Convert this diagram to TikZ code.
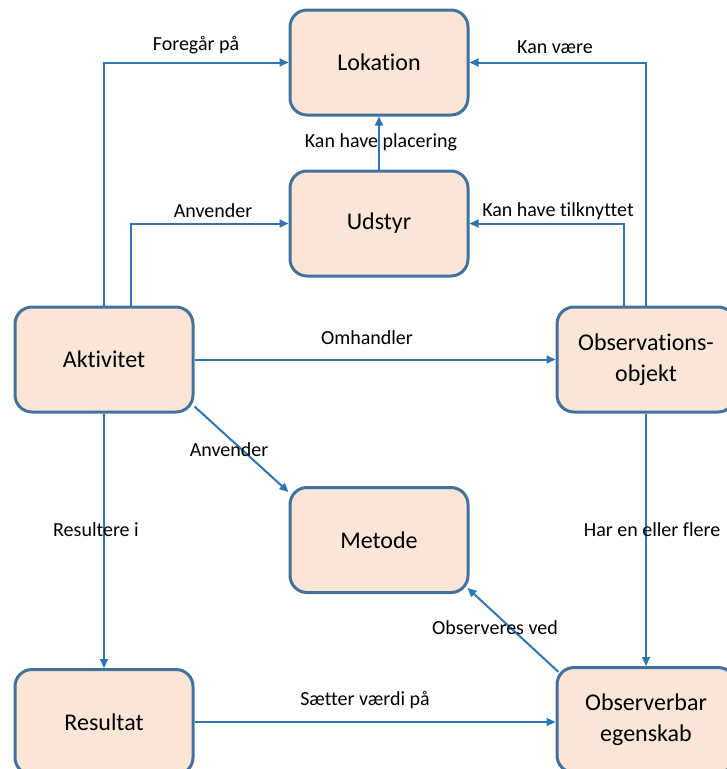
\documentclass[tikz,border=0pt]{standalone}
\usepackage{fontspec}
\setmainfont{Carlito}[Ligatures=NoCommon]
\usetikzlibrary{arrows.meta,calc}
\definecolor{boxfill}{HTML}{FBE5D6}
\definecolor{boxline}{HTML}{41719C}
\definecolor{linkcol}{HTML}{2E75B6}
\begin{document}
\begin{tikzpicture}[x=1pt,y=-1pt,
  entity/.style={draw=boxline, line width=3pt, fill=boxfill, rounded corners=17pt,
    minimum width=178pt, minimum height=105pt, inner sep=0pt, align=center,
    font=\fontsize{24}{31}\selectfont},
  link/.style={draw=linkcol, line width=2pt, -{Triangle[length=9pt,width=8pt]}},
  tag/.style={inner sep=0pt, font=\fontsize{20}{24}\selectfont}]
\useasboundingbox (0,0) rectangle (727,769);

% entities
\node[entity] (lok) at (379,62.5) {Lokation};
\node[entity] (uds) at (379,223.5) {Udstyr};
\node[entity] (akt) at (104,359.5) {Aktivitet};
\node[entity] (obs) at (646,359.5) {Observations-\\objekt};
\node[entity] (met) at (379,540) {Metode};
\node[entity] (res) at (104,722) {Resultat};
\node[entity] (egs) at (646,720) {Observerbar\\egenskab};

% relations
\draw[link] (akt.north) |- (lok.west);
\draw[link] ([xshift=27pt]akt.north) |- (uds.west);
\draw[link] (uds.north) -- (lok.south);
\draw[link] (obs.north) |- (lok.east);
\draw[link] ([xshift=-22pt]obs.north) |- (uds.east);
\draw[link] (akt.east) -- (obs.west);
\draw[link] ([yshift=7pt]akt.south east) -- ([yshift=-6pt]met.north west);
\draw[link] (akt.south) -- (res.north);
\draw[link] (obs.south) -- (egs.north);
\draw[link] (res.east) -- (egs.west |- res.east);
\draw[link] ([yshift=-6pt,xshift=3pt]egs.north west) -- ([yshift=6pt,xshift=-2pt]met.south east);

% relation names
\node[tag] (t1) at (196,45) {Foregår på};
\node[tag] (t2) at (213,211) {Anvender};
\node[tag] (t3) at (381,142) {Kan have placering};
\node[tag] (t4) at (555,47) {Kan være};
\node[tag] (t5) at (558,211) {Kan have tilknyttet};
\node[tag] (t6) at (367,338) {Omhandler};
\node[tag] (t7) at (229,450) {Anvender};
\node[tag] (t8) at (96,530) {Resultere i};
\node[tag] (t9) at (652,530) {Har en eller flere};
\node[tag] (t10) at (365,700) {Sætter værdi på};
\node[tag] (t11) at (495,628) {Observeres ved};
\end{tikzpicture}
\end{document}
